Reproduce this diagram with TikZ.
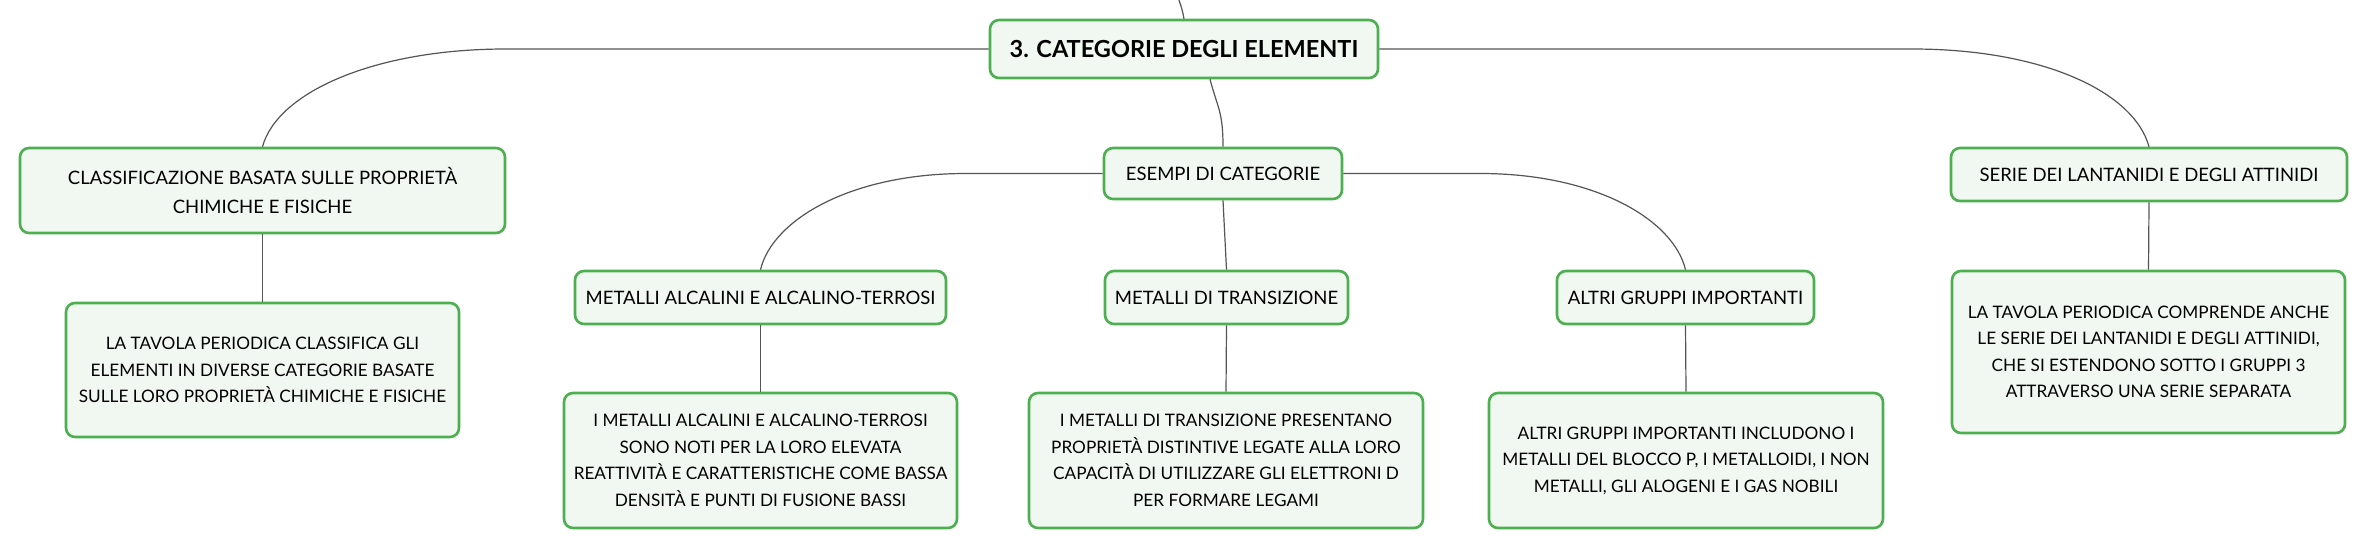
\documentclass[tikz,border=0pt]{standalone}
\usepackage{fontspec}
\setmainfont{Lato}
\usetikzlibrary{positioning,calc}

\definecolor{boxgreen}{RGB}{76,175,80}
\definecolor{boxfill}{RGB}{241,248,242}
\definecolor{linkgray}{RGB}{85,85,85}

\begin{document}
\begin{tikzpicture}[x=1pt, y=-1pt,
    box/.style={draw=boxgreen, fill=boxfill, line width=2.6pt, rounded corners=9pt, align=center, inner sep=0pt},
    topic/.style={box, font=\fontsize{18.5}{29}\selectfont},
    body/.style={box, font=\fontsize{17.2}{26.5}\selectfont},
    link/.style={draw=linkgray, line width=1.2pt}]
\useasboundingbox[fill=white] (0,0) rectangle (2367,549);
% main topic
\node[box, minimum width=388pt, minimum height=58pt, font=\fontsize{23.5}{26}\selectfont\bfseries] (root) at (1184,49) {3. CATEGORIE DEGLI ELEMENTI};
% first level
\node[topic, minimum width=485pt, minimum height=85pt] (classif) at (262.5,190.5) {CLASSIFICAZIONE BASATA SULLE PROPRIETÀ\\CHIMICHE E FISICHE};
\node[topic, minimum width=238pt, minimum height=51pt] (esempi) at (1223,173.5) {ESEMPI DI CATEGORIE};
\node[topic, minimum width=396pt, minimum height=53pt] (serie) at (2149,174.5) {SERIE DEI LANTANIDI E DEGLI ATTINIDI};
% second level
\node[topic, minimum width=371pt, minimum height=53pt] (alcalini) at (760.5,297.5) {METALLI ALCALINI E ALCALINO-TERROSI};
\node[topic, minimum width=243pt, minimum height=53pt] (transiz) at (1226.5,297.5) {METALLI DI TRANSIZIONE};
\node[topic, minimum width=257pt, minimum height=53pt] (altri) at (1685.5,297.5) {ALTRI GRUPPI IMPORTANTI};
% notes
\node[body, minimum width=393pt, minimum height=134pt] (classifNote) at (262.5,370) {LA TAVOLA PERIODICA CLASSIFICA GLI\\ELEMENTI IN DIVERSE CATEGORIE BASATE\\SULLE LORO PROPRIETÀ CHIMICHE E FISICHE};
\node[body, minimum width=393pt, minimum height=162pt] (serieNote) at (2148.5,352) {LA TAVOLA PERIODICA COMPRENDE ANCHE\\LE SERIE DEI LANTANIDI E DEGLI ATTINIDI,\\CHE SI ESTENDONO SOTTO I GRUPPI 3\\ATTRAVERSO UNA SERIE SEPARATA};
\node[body, minimum width=393pt, minimum height=135pt] (alcaliniNote) at (760.5,460.5) {I METALLI ALCALINI E ALCALINO-TERROSI\\SONO NOTI PER LA LORO ELEVATA\\REATTIVITÀ E CARATTERISTICHE COME BASSA\\DENSITÀ E PUNTI DI FUSIONE BASSI};
\node[body, minimum width=394pt, minimum height=135pt] (transizNote) at (1226,460.5) {I METALLI DI TRANSIZIONE PRESENTANO\\PROPRIETÀ DISTINTIVE LEGATE ALLA LORO\\CAPACITÀ DI UTILIZZARE GLI ELETTRONI D\\PER FORMARE LEGAMI};
\node[body, minimum width=394pt, minimum height=135pt] (altriNote) at (1686,460.5) {ALTRI GRUPPI IMPORTANTI INCLUDONO I\\METALLI DEL BLOCCO P, I METALLOIDI, I NON\\METALLI, GLI ALOGENI E I GAS NOBILI};
% links
\draw[link] (root.north) .. controls +(-2,-10) .. +(-7,-24);
\draw[link] (root.west) -- ++(-483,0) .. controls +(-130,0) and +(15,-55) .. (classif.north);
\draw[link] (root.east) -- ++(533,0) .. controls +(130,0) and +(-15,-55) .. (serie.north);
\draw[link] ($(root.south)+(26,0)$) .. controls +(8,30) and +(0,-35) .. (esempi.north);
\draw[link] (esempi.west) -- ++(-137,0) .. controls +(-115,0) and +(12,-50) .. (alcalini.north);
\draw[link] (esempi.east) -- ++(137,0) .. controls +(115,0) and +(-12,-50) .. (altri.north);
\draw[link] (esempi.south) -- (transiz.north);
\foreach \a in {classif,serie,alcalini,transiz,altri}
  \draw[link] (\a.south) -- (\a Note.north);
\end{tikzpicture}
\end{document}
